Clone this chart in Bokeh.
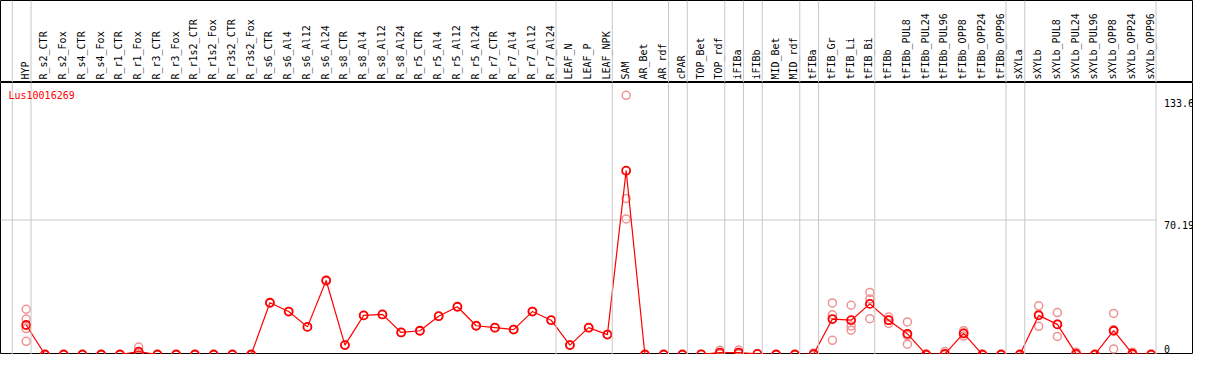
from math import pi
from bokeh.plotting import figure
from bokeh.models import Range1d, Span, Label
from bokeh.layouts import column
from bokeh.core.properties import value
from bokeh.embed import file_html
from bokeh.resources import INLINE

# ---------------- data ----------------
gene = "Lus10016269"

categories = [
    "HYP", "R_s2_CTR", "R_s2_Fox", "R_s4_CTR", "R_s4_Fox", "R_r1_CTR", "R_r1_Fox",
    "R_r3_CTR", "R_r3_Fox", "R_r1s2_CTR", "R_r1s2_Fox", "R_r3s2_CTR", "R_r3s2_Fox",
    "R_s6_CTR", "R_s6_Al4", "R_s6_Al12", "R_s6_Al24", "R_s8_CTR", "R_s8_Al4",
    "R_s8_Al12", "R_s8_Al24", "R_r5_CTR", "R_r5_Al4", "R_r5_Al12", "R_r5_Al24",
    "R_r7_CTR", "R_r7_Al4", "R_r7_Al12", "R_r7_Al24", "LEAF_N", "LEAF_P", "LEAF_NPK",
    "SAM", "AR_Bet", "AR_rdf", "cPAR", "TOP_Bet", "TOP_rdf", "iFIBa", "iFIBb",
    "MID_Bet", "MID_rdf", "tFIBa", "tFIB_Gr", "tFIB_Li", "tFIB_Bi", "tFIBb",
    "tFIBb_PUL8", "tFIBb_PUL24", "tFIBb_PUL96", "tFIBb_OPP8", "tFIBb_OPP24",
    "tFIBb_OPP96", "sXYLa", "sXYLb", "sXYLb_PUL8", "sXYLb_PUL24", "sXYLb_PUL96",
    "sXYLb_OPP8", "sXYLb_OPP24", "sXYLb_OPP96",
]

means = [
    15.4, 0, 0, 0, 0, 0, 1.5,
    0, 0, 0, 0, 0, 0,
    27.0, 22.4, 14.4, 38.6, 4.9, 20.4,
    20.9, 11.5, 12.4, 20.0, 24.9, 15.0,
    14.0, 13.0, 22.4, 17.9, 4.9, 14.0, 10.4,
    95.9, 0, 0, 0, 0.1, 1.0, 1.0, 0.3,
    0, 0, 0.2, 18.5, 17.9, 26.4, 17.9,
    10.8, 0, 0.3, 11.0, 0,
    0, 0, 20.4, 15.7, 0.3, 0,
    12.4, 0.4, 0,
]

# replicate values (category index -> values); other categories: single value = mean
replicates = {
    0: [23.6, 18.5, 13.5, 6.9],
    6: [3.9, 0.6, 0.0],
    32: [135.2, 81.4, 70.7],
    37: [2.2, 0.5, 0.3],
    38: [2.3, 0.5, 0.2],
    42: [0.8, 0.0, 0.0],
    43: [26.9, 20.7, 7.4],
    44: [25.7, 14.9, 12.7],
    45: [32.4, 29.0, 18.7],
    46: [19.5, 18.0, 16.2],
    47: [17.0, 9.9, 5.4],
    49: [1.5, 0.0, 0.0],
    50: [12.4, 11.2, 9.6],
    54: [25.4, 21.0, 14.7],
    55: [21.9, 15.8, 9.4],
    56: [1.2, 0.0, 0.0],
    58: [21.4, 12.9, 2.9],
    59: [1.2, 0.0, 0.0],
}

# index of the last category of each group (separator drawn after it)
group_ends = [-1, 0, 28, 31, 34, 35, 37, 38, 39, 41, 42, 45, 52, 53, 60]

y_ticks = [133.6, 70.19, 0]
y_tick_labels = ["133.6", "70.19", "0"]

# ---------------- layout ----------------
W = 1193
H_HEAD = 82
H_PLOT = 272
GRID = "#c8c8c8"
RED = "#ff0000"
PINK = "#ee9393"
FONT = value("DejaVu Sans Mono")

n = len(categories)
xs = list(range(n))
x_range = Range1d(-1.37, 62.26)
sep_off = 0.26


def base_fig(h, y_range):
    f = figure(width=W, height=h, x_range=x_range, y_range=y_range,
               output_backend="svg", toolbar_location=None,
               min_border=0, min_border_left=0, min_border_right=0,
               min_border_top=0, min_border_bottom=0,
               x_axis_location=None, y_axis_location=None)
    f.xgrid.visible = False
    f.ygrid.visible = False
    f.outline_line_color = "black"
    f.outline_line_width = 1
    f.background_fill_color = "white"
    f.border_fill_color = "white"
    for g in group_ends:
        f.add_layout(Span(location=g + sep_off, dimension="height",
                          line_color=GRID, line_width=1))
    return f


# header with rotated category names
head = base_fig(H_HEAD, Range1d(0, H_HEAD))
head.text(x=[x - 0.05 for x in xs], y=[0] * n, text=categories, angle=pi / 2,
          y_offset=-3, text_align="left", text_baseline="middle",
          text_font=FONT, text_font_size="10px", text_color="black")

# main plot
plot = base_fig(H_PLOT, Range1d(0, 141.9))

# horizontal grid line at the middle tick
plot.segment(x0=[x_range.start], x1=[group_ends[-1] + sep_off],
             y0=[y_ticks[1]], y1=[y_ticks[1]], line_color=GRID, line_width=1)

# tick labels at right
lab_x = group_ends[-1] + 0.68
plot.text(x=[lab_x, lab_x], y=y_ticks[:2], text=y_tick_labels[:2],
          text_align="left", text_baseline="top", y_offset=1,
          text_font=FONT, text_font_size="10px", text_color="black")
plot.text(x=[lab_x], y=y_ticks[2:], text=y_tick_labels[2:],
          text_align="left", text_baseline="bottom", y_offset=-2,
          text_font=FONT, text_font_size="10px", text_color="black")

# replicate points
rx, ry = [], []
for i in xs:
    vals = replicates.get(i, [means[i]])
    rx.extend([i] * len(vals))
    ry.extend(vals)
plot.scatter(rx, ry, marker="circle", size=8, fill_color=None,
             line_color=PINK, line_width=1.5)

# mean line and points
plot.line(xs, means, line_color=RED, line_width=1.2)
plot.scatter(xs, means, marker="circle", size=8, fill_color=None,
             line_color=RED, line_width=1.8)

plot.add_layout(Label(x=x_range.start, y=138.0, x_offset=8, text=gene,
                      text_baseline="top", text_align="left",
                      text_font="DejaVu Sans Mono", text_font_size="10px",
                      text_color=RED))

layout = column(head, plot, spacing=0)
open("out.html", "w").write(file_html(layout, INLINE))
